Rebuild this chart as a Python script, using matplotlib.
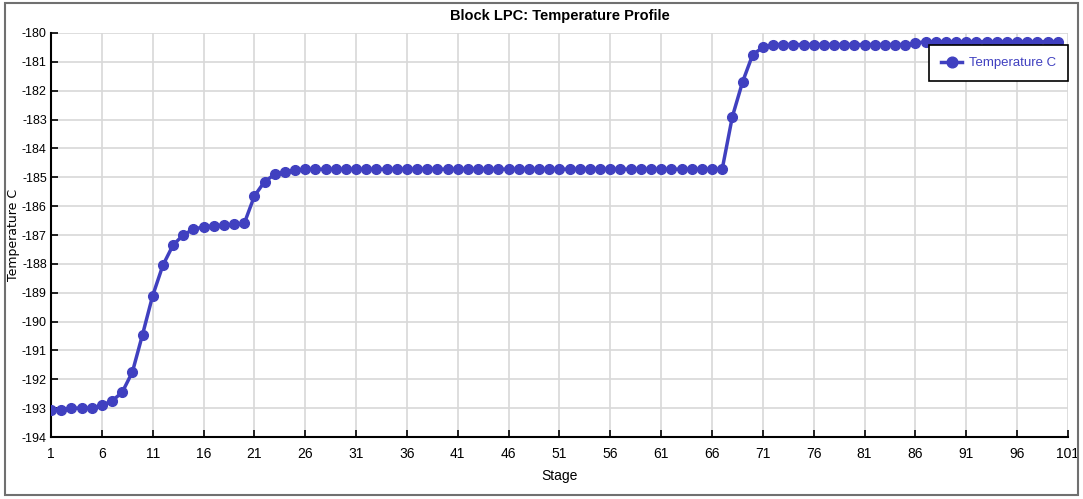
import numpy as np
import matplotlib
matplotlib.use('Agg')
import matplotlib.pyplot as plt
from matplotlib.patches import Rectangle

stages = list(range(1, 101))
temp = ([-193.05, -193.05, -193.0, -193.0, -193.0, -192.9, -192.75, -192.45,
         -191.75, -190.45, -189.1, -188.05, -187.35, -187.0, -186.8, -186.72,
         -186.68, -186.66, -186.63, -186.6, -185.65, -185.15, -184.9, -184.8,
         -184.75]
        + [-184.72] * 42
        + [-182.9, -181.7, -180.75, -180.5]
        + [-180.4] * 14
        + [-180.35]
        + [-180.3] * 14)

xticks = list(range(1, 102, 5))
yticks = list(range(-194, -179))

COND = ['Liberation Sans', 'DejaVu Sans']
LINE = '#4040c0'

fig = plt.figure(figsize=(10.83, 4.99), dpi=100)
fig.patches.append(Rectangle((0.005, 0.008), 0.99, 0.986, transform=fig.transFigure,
                             fill=False, ec='#707070', lw=1.5))
ax = fig.add_axes([0.0471, 0.1242, 0.9390, 0.8097])

ax.plot(stages, temp, '-o', color=LINE, lw=2.5, ms=7, label='Temperature C', zorder=3)

ax.set_xlim(1, 101)
ax.set_ylim(-194, -180)
ax.set_xticks(xticks)
ax.set_yticks(yticks)
ax.set_xticklabels([str(t) for t in xticks], family=COND, fontsize=10)
ax.set_yticklabels([str(t) for t in yticks], family=COND, fontsize=9)
ax.tick_params(direction='in', length=5, width=1.2, colors='black', pad=3)
ax.tick_params(axis='x', pad=7)
ax.grid(True, color='#d8d8d8', lw=1.2)
ax.set_axisbelow(True)
for s in ('top', 'right'):
    ax.spines[s].set_visible(False)
for s in ('left', 'bottom'):
    ax.spines[s].set_linewidth(1.5)

ax.set_title('Block LPC: Temperature Profile', family=COND, fontweight='bold',
             fontsize=10.5, pad=9)
ax.set_xlabel('Stage', family=COND, fontsize=10, labelpad=6)
ax.set_ylabel('Temperature C', fontsize=9)
ax.yaxis.set_label_coords(-0.0305, 0.5)

leg = ax.legend(loc='upper right', bbox_to_anchor=(1.0, 0.97), borderaxespad=0,
                frameon=True, fancybox=False, edgecolor='black', framealpha=1,
                prop={'family': COND, 'size': 9.5}, handlelength=1.6,
                borderpad=0.9, handletextpad=0.5, markerscale=1.1)
leg.get_frame().set_linewidth(1.2)
for t in leg.get_texts():
    t.set_color(LINE)

fig.savefig('out.png', dpi=100)
